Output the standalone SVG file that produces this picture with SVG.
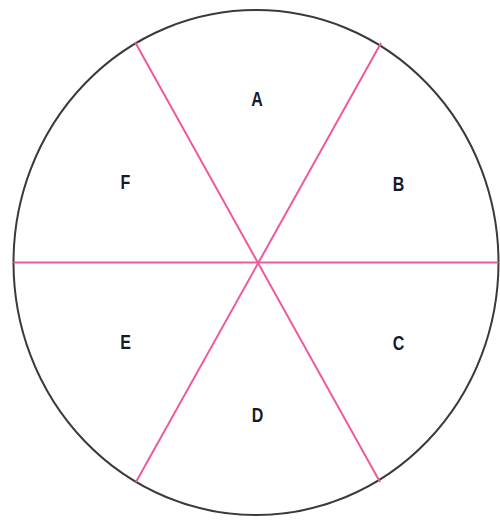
<svg xmlns="http://www.w3.org/2000/svg" width="500" height="520" viewBox="0 0 500 520">
<style>
.rim{fill:none;stroke:#3a3a3a;stroke-width:2}
.spoke{stroke:#ec5a9e;stroke-width:2;fill:none}
.lbl{font-family:"Liberation Sans",Arial,sans-serif;font-weight:bold;font-size:20px;fill:#151a2a;text-anchor:middle}
</style>
<rect width="500" height="520" fill="#fff"/>
<g id="circle"><ellipse class="rim" cx="256" cy="262.5" rx="242.5" ry="252.5"/></g>
<g id="connectors">
<line class="spoke" x1="13.5" y1="262.5" x2="498.5" y2="262.5"/>
<line class="spoke" x1="135" y1="42" x2="380" y2="482"/>
<line class="spoke" x1="381" y1="43" x2="136" y2="482"/>
</g>
<g id="A"><text class="lbl" transform="translate(257 106) scale(0.8 1)">A</text></g>
<g id="B"><text class="lbl" transform="translate(398.5 191) scale(0.8 1)">B</text></g>
<g id="C"><text class="lbl" transform="translate(398.5 350) scale(0.8 1)">C</text></g>
<g id="D"><text class="lbl" transform="translate(257.5 422) scale(0.8 1)">D</text></g>
<g id="E"><text class="lbl" transform="translate(125.5 349) scale(0.8 1)">E</text></g>
<g id="F"><text class="lbl" transform="translate(125.5 189) scale(0.8 1)">F</text></g>
</svg>
